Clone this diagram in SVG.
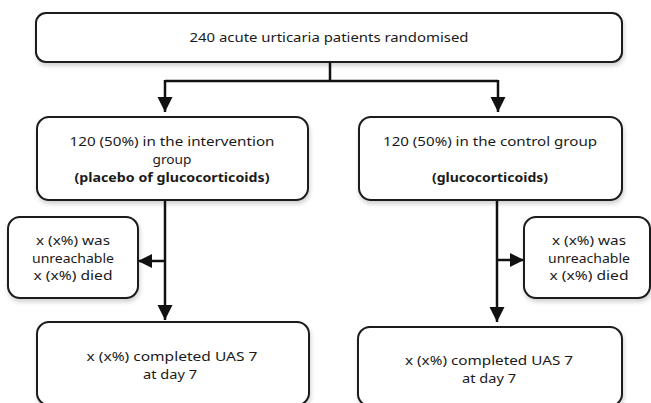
<svg xmlns="http://www.w3.org/2000/svg" width="651" height="403" viewBox="0 0 651 403">
<style>
.box{fill:#fff;stroke:#1a1a1a;stroke-width:2;filter:url(#sh)}
.t{font-family:"Noto Sans","Open Sans",sans-serif;font-size:13px;fill:#1a1a1a;text-anchor:middle}
.s{font-size:12.4px}
.b{font-weight:bold}
.c{fill:none;stroke:#111;stroke-width:2.5}
</style>
<defs>
<filter id="sh" x="-10%" y="-10%" width="120%" height="140%">
<feDropShadow dx="1" dy="3" stdDeviation="2" flood-color="#000" flood-opacity="0.18"/>
</filter>
<marker id="ad" markerUnits="userSpaceOnUse" markerWidth="16" markerHeight="16" refX="15" refY="7.5" orient="auto">
<path d="M0,0 L15,7.5 L0,15 z" fill="#111"/>
</marker>
<marker id="as" markerUnits="userSpaceOnUse" markerWidth="15" markerHeight="15" refX="14" refY="7" orient="auto">
<path d="M0,0 L14,7 L0,14 z" fill="#111"/>
</marker>
</defs>
<g id="connectors">
<path class="c" d="M330 62 V81 M165 81 H498"/>
<path class="c" d="M165 80 V112" marker-end="url(#ad)"/>
<path class="c" d="M498 80 V112" marker-end="url(#ad)"/>
<path class="c" d="M165 200 V320" marker-end="url(#ad)"/>
<path class="c" d="M497 200 V322" marker-end="url(#ad)"/>
<path class="c" d="M165 261 H138" marker-end="url(#as)"/>
<path class="c" d="M497 260 H524" marker-end="url(#as)"/>
</g>
<g id="randomised">
<rect class="box" x="36" y="13" width="586" height="49" rx="10"/>
<text class="t" x="329" y="42" textLength="279" lengthAdjust="spacingAndGlyphs">240 acute urticaria patients randomised</text>
</g>
<g id="intervention">
<rect class="box" x="37" y="117" width="271" height="83" rx="12"/>
<text class="t s" x="172" y="146" textLength="205" lengthAdjust="spacingAndGlyphs">120 (50%) in the intervention</text>
<text class="t s" x="172" y="164" textLength="39" lengthAdjust="spacingAndGlyphs">group</text>
<text class="t s b" x="172" y="182" textLength="195" lengthAdjust="spacingAndGlyphs">(placebo of glucocorticoids)</text>
</g>
<g id="control">
<rect class="box" x="359" y="117" width="263" height="83" rx="12"/>
<text class="t s" x="490" y="146" textLength="214" lengthAdjust="spacingAndGlyphs">120 (50%) in the control group</text>
<text class="t s b" x="490" y="182" textLength="116" lengthAdjust="spacingAndGlyphs">(glucocorticoids)</text>
</g>
<g id="lost-left">
<rect class="box" x="8" y="217" width="130" height="81" rx="12"/>
<text class="t s" x="73" y="245" textLength="74" lengthAdjust="spacingAndGlyphs">x (x%) was</text>
<text class="t s" x="73" y="262.5" textLength="82" lengthAdjust="spacingAndGlyphs">unreachable</text>
<text class="t s" x="73" y="280" textLength="79" lengthAdjust="spacingAndGlyphs">x (x%) died</text>
</g>
<g id="lost-right">
<rect class="box" x="524" y="217" width="126" height="81" rx="12"/>
<text class="t s" x="589" y="245" textLength="74" lengthAdjust="spacingAndGlyphs">x (x%) was</text>
<text class="t s" x="589" y="262.5" textLength="82" lengthAdjust="spacingAndGlyphs">unreachable</text>
<text class="t s" x="589" y="280" textLength="79" lengthAdjust="spacingAndGlyphs">x (x%) died</text>
</g>
<g id="completed-left">
<rect class="box" x="37" y="322" width="272" height="83" rx="12"/>
<text class="t s" x="172" y="361" textLength="171" lengthAdjust="spacingAndGlyphs">x (x%) completed UAS 7</text>
<text class="t s" x="170" y="378.5" textLength="54" lengthAdjust="spacingAndGlyphs">at day 7</text>
</g>
<g id="completed-right">
<rect class="box" x="358" y="327" width="264" height="79" rx="12"/>
<text class="t s" x="489" y="365" textLength="168" lengthAdjust="spacingAndGlyphs">x (x%) completed UAS 7</text>
<text class="t s" x="489" y="382.5" textLength="54" lengthAdjust="spacingAndGlyphs">at day 7</text>
</g>
</svg>
